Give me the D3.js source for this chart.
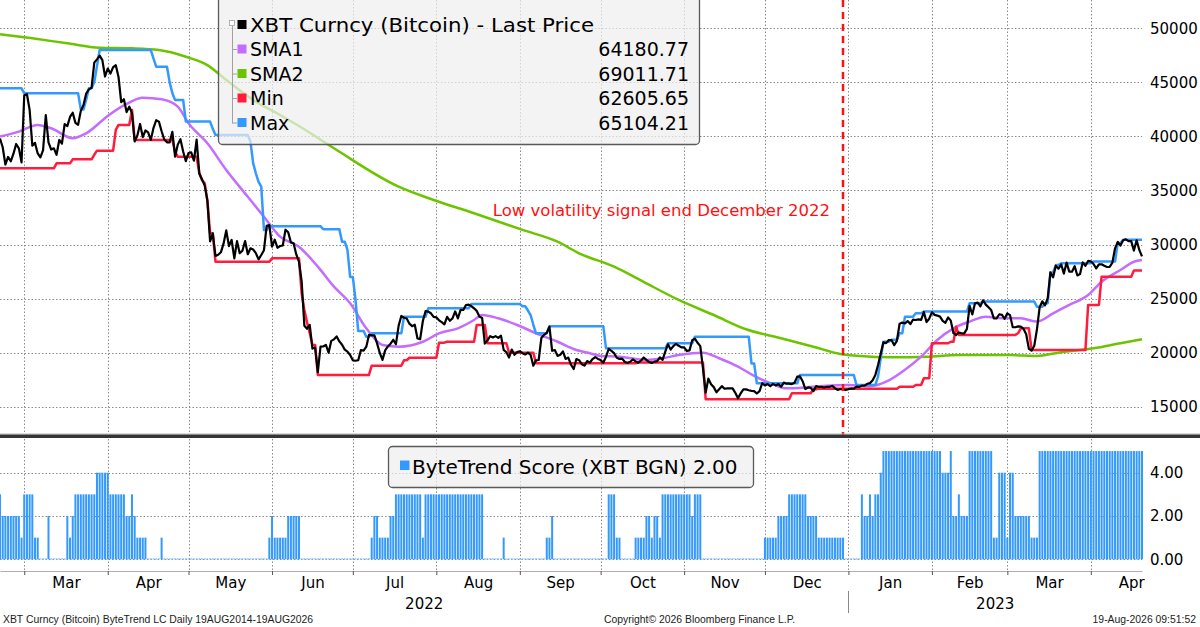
<!DOCTYPE html>
<html>
<head>
<meta charset="utf-8">
<script src="https://cdn.jsdelivr.net/npm/d3@7"></script>
<style>
body { margin: 0; background: #fff; }
svg { display: block; font-family: "DejaVu Sans", Verdana, sans-serif; }
</style>
</head>
<body>
<svg id="chart" width="1200" height="627"></svg>
<script>
// daily last price, first value is 20 Feb 2022
const startDay = "2022-02-20";
const endDay = "2023-04-20";
const priceValues = [
	39800, 39000, 37400, 38100, 37700, 38400, 39300, 38900, 37600, 43800,
	43900, 42450, 39150, 39400, 38420, 38060, 38740, 41980, 39440, 38790,
	38900, 38300, 39670, 39340, 41140, 40950, 41800, 42190, 41250, 41080,
	42360, 42900, 43960, 44350, 44500, 46820, 47130, 47470, 47060, 45540,
	46280, 45810, 46410, 46580, 45500, 43170, 43440, 42250, 42750, 42160,
	39530, 40080, 41150, 39940, 40550, 40380, 39680, 40800, 41500, 41370,
	40480, 39710, 39450, 39450, 40430, 38120, 39240, 39740, 38600, 37710,
	38470, 38530, 37750, 39700, 36570, 36010, 35470, 34060, 30300, 31020,
	28940, 29050, 29280, 30080, 31310, 29860, 30420, 28720, 30310, 29200,
	29430, 30320, 29100, 29650, 29540, 29200, 28630, 29030, 29470, 31720,
	31790, 29800, 30450, 29700, 29860, 29910, 31370, 31130, 30200, 30110,
	29080, 28420, 26580, 22490, 22210, 22570, 20380, 20470, 18200, 20550,
	20570, 20720, 19990, 21090, 21230, 21500, 21040, 20730, 20280, 20100,
	19780, 19300, 19250, 19300, 20230, 20190, 20550, 21640, 21590, 21590,
	20860, 19970, 19330, 20210, 20570, 20830, 21190, 20780, 22480, 23390,
	23230, 23160, 22680, 22450, 22580, 21310, 21250, 22930, 23840, 23800,
	23640, 23300, 23270, 22990, 22820, 22620, 23310, 22950, 23170, 23810,
	23160, 23950, 23950, 24400, 24440, 24310, 24100, 23860, 23340, 23210,
	20830, 21140, 21520, 21400, 21530, 21370, 21570, 20260, 20040, 19550,
	20280, 19800, 20050, 20130, 19950, 19830, 20000, 19800, 18790, 19290,
	19320, 21360, 21650, 21830, 22400, 20170, 20240, 19700, 19800, 20110,
	19420, 19540, 18880, 18490, 19410, 19300, 18930, 18800, 19220, 19080,
	19410, 19590, 19420, 19310, 19060, 19620, 20340, 20160, 19960, 19530,
	19420, 19450, 19130, 19060, 19160, 19380, 19180, 19070, 19270, 19550,
	19330, 19130, 19050, 19170, 19210, 19570, 19330, 20090, 20770, 20290,
	20600, 20820, 20630, 20490, 20480, 20150, 20210, 21150, 21300, 20910,
	20600, 18540, 16300, 17590, 17070, 16810, 16330, 16620, 16900, 16660,
	16690, 16700, 16700, 16280, 15780, 16230, 16610, 16600, 16520, 16460,
	16440, 16220, 16440, 17170, 16970, 17090, 16890, 17110, 16970, 17090,
	16840, 17230, 17130, 17130, 17090, 17210, 17780, 17810, 17360, 16630,
	16780, 16740, 16440, 16900, 16820, 16830, 16780, 16840, 16840, 16920,
	16710, 16550, 16640, 16600, 16540, 16620, 16680, 16670, 16850, 16830,
	16950, 16940, 17120, 17180, 17440, 17940, 18850, 19930, 20950, 20880,
	21170, 21160, 20690, 21080, 22680, 22780, 22710, 22920, 22640, 23060,
	23020, 23080, 23030, 23760, 22830, 23140, 23730, 23490, 23430, 23330,
	22940, 22760, 23260, 22960, 21800, 21630, 21860, 21790, 21780, 22200,
	24330, 23530, 24570, 24630, 24280, 24840, 24440, 24190, 23940, 23170,
	23160, 23550, 23490, 23130, 23640, 23470, 22360, 22350, 22430, 22410,
	22200, 21700, 20360, 20190, 20630, 22160, 24200, 24750, 24380, 25050,
	27420, 26970, 28040, 27770, 28170, 27310, 28330, 27490, 27490, 27990,
	27140, 27270, 28350, 28030, 28480, 28450, 28200, 27800, 28170, 28170,
	28030, 27920, 27940, 28330, 29650, 30240, 29900, 30390, 30480, 30320,
	30310, 29440, 30390, 29500, 28900
];

// Max / Min channel: value from that day on, held until the next entry
const maxSteps = [
	["2022-02-20", 44450], ["2022-03-01", 43990], ["2022-03-22", 42500], ["2022-03-24", 43400],
	["2022-03-25", 44450], ["2022-03-27", 45000], ["2022-03-28", 46500], ["2022-03-29", 47990],
	["2022-04-18", 47200], ["2022-04-19", 46450], ["2022-04-24", 45000], ["2022-04-25", 43990],
	["2022-04-26", 43370], ["2022-04-30", 41370], ["2022-05-10", 40700], ["2022-05-11", 40130],
	["2022-05-24", 39500], ["2022-05-25", 37500], ["2022-05-26", 36590], ["2022-05-27", 35800],
	["2022-05-28", 35350], ["2022-05-29", 31350], ["2022-05-31", 31700], ["2022-06-20", 31410],
	["2022-06-27", 30260], ["2022-06-29", 29500], ["2022-06-30", 27000], ["2022-07-02", 24870],
	["2022-07-03", 22000], ["2022-07-06", 21470], ["2022-07-08", 21800], ["2022-07-20", 23330],
	["2022-07-29", 24100], ["2022-08-14", 24500], ["2022-09-02", 24300], ["2022-09-04", 23900],
	["2022-09-05", 23480], ["2022-09-06", 22600], ["2022-09-07", 21790], ["2022-09-12", 22450],
	["2022-10-03", 20400], ["2022-10-26", 20870], ["2022-11-05", 21470], ["2022-11-26", 19000],
	["2022-11-28", 17170], ["2022-12-14", 17930], ["2023-01-04", 17010], ["2023-01-12", 17780],
	["2023-01-13", 19500], ["2023-01-14", 21010], ["2023-01-17", 21200], ["2023-01-20", 21790],
	["2023-01-22", 23330], ["2023-01-26", 23640], ["2023-01-29", 23800], ["2023-02-15", 24570],
	["2023-02-20", 24720], ["2023-03-12", 24250], ["2023-03-15", 24570], ["2023-03-17", 27420],
	["2023-03-19", 28100], ["2023-03-21", 28270], ["2023-04-02", 28420], ["2023-04-11", 30130],
	["2023-04-13", 30440], ["2023-04-20", 30440]
];
const minSteps = [
	["2022-02-20", 37050], ["2022-03-13", 37510], ["2022-03-19", 37880], ["2022-03-27", 38300],
	["2022-03-28", 38680], ["2022-04-04", 40600], ["2022-04-05", 41060], ["2022-04-10", 42440],
	["2022-04-11", 39670], ["2022-04-26", 38590], ["2022-04-27", 38120], ["2022-05-05", 36590],
	["2022-05-06", 35970], ["2022-05-07", 35660], ["2022-05-08", 34060], ["2022-05-09", 31040],
	["2022-05-11", 28410], ["2022-06-01", 28720], ["2022-06-12", 25490], ["2022-06-13", 23950],
	["2022-06-14", 22800], ["2022-06-15", 21790], ["2022-06-16", 20710], ["2022-06-18", 17940],
	["2022-07-08", 18790], ["2022-07-20", 19300], ["2022-07-22", 19530], ["2022-08-02", 20920],
	["2022-08-05", 21010], ["2022-08-16", 22560], ["2022-08-20", 20870], ["2022-08-28", 20000],
	["2022-09-07", 19020], ["2022-10-15", 19090], ["2022-11-09", 15700], ["2022-12-11", 16240],
	["2022-12-19", 16610], ["2022-12-21", 16650], ["2023-01-20", 16850], ["2023-01-26", 17010],
	["2023-01-29", 17630], ["2023-02-01", 20870], ["2023-02-08", 21010], ["2023-02-10", 22400],
	["2023-02-11", 21640], ["2023-03-05", 21790], ["2023-03-06", 22250], ["2023-03-10", 20250],
	["2023-03-31", 24410], ["2023-04-05", 27030], ["2023-04-17", 27600], ["2023-04-20", 27600]
];

const sma1Points = [
	["2022-02-20", 39980], ["2022-02-27", 40440], ["2022-03-06", 41060], ["2022-03-11", 40750],
	["2022-03-19", 39830], ["2022-03-24", 40290], ["2022-04-01", 41890], ["2022-04-08", 43000],
	["2022-04-14", 43580], ["2022-04-21", 43430], ["2022-04-27", 42750], ["2022-05-01", 41210],
	["2022-05-08", 39360], ["2022-05-15", 36890], ["2022-05-23", 34420], ["2022-05-29", 32570],
	["2022-06-04", 30730], ["2022-06-11", 29800], ["2022-06-18", 27950], ["2022-06-24", 26100],
	["2022-06-30", 24570], ["2022-07-06", 22250], ["2022-07-12", 20710], ["2022-07-18", 20550],
	["2022-07-27", 21010], ["2022-08-02", 21790], ["2022-08-09", 22250], ["2022-08-15", 23020],
	["2022-08-18", 23480], ["2022-08-24", 23180], ["2022-08-31", 22560], ["2022-09-07", 21790],
	["2022-09-15", 21010], ["2022-09-22", 20250], ["2022-09-27", 19940], ["2022-10-01", 19700],
	["2022-10-08", 19630], ["2022-10-18", 19330], ["2022-10-24", 19480], ["2022-10-30", 19780],
	["2022-11-08", 20000], ["2022-11-14", 19480], ["2022-11-21", 18710], ["2022-11-27", 17850],
	["2022-12-03", 17170], ["2022-12-09", 16700], ["2022-12-19", 16850], ["2023-01-01", 17010],
	["2023-01-09", 16900], ["2023-01-15", 17310], ["2023-01-21", 18240], ["2023-01-28", 19630],
	["2023-02-03", 21170], ["2023-02-09", 22250], ["2023-02-15", 22870], ["2023-02-21", 23330],
	["2023-02-27", 23180], ["2023-03-06", 23180], ["2023-03-12", 22870], ["2023-03-18", 23640],
	["2023-03-24", 24410], ["2023-03-31", 25330], ["2023-04-05", 26560], ["2023-04-12", 27640],
	["2023-04-17", 28410], ["2023-04-20", 28570]
];
const sma2Points = [
	["2022-02-20", 49440], ["2022-03-04", 49070], ["2022-03-17", 48610], ["2022-03-29", 48210],
	["2022-04-10", 48150], ["2022-04-20", 47990], ["2022-04-30", 47370], ["2022-05-08", 46600],
	["2022-05-15", 45220], ["2022-05-25", 43370], ["2022-06-04", 41980], ["2022-06-11", 40960],
	["2022-06-24", 38900], ["2022-07-18", 35350], ["2022-07-31", 34120], ["2022-08-15", 32890],
	["2022-09-02", 31350], ["2022-09-15", 30260], ["2022-09-23", 29190], ["2022-10-06", 27950],
	["2022-10-18", 26410], ["2022-10-30", 24870], ["2022-11-12", 23480], ["2022-11-24", 22160],
	["2022-12-07", 21330], ["2022-12-19", 20550], ["2022-12-29", 19880], ["2023-01-04", 19720],
	["2023-01-18", 19570], ["2023-01-30", 19620], ["2023-02-11", 19780], ["2023-03-02", 19780],
	["2023-03-12", 19700], ["2023-03-20", 20000], ["2023-04-02", 20400], ["2023-04-12", 20870],
	["2023-04-20", 21230]
];

// ByteTrend score as runs: [score, number of days], from startDay
const scoreRuns = [
	[3,1],[2,7],[1,1],[3,4],[1,2],[0,3],[2,1],[0,6],[2,1],[1,1],[2,1],[3,8],[4,5],[3,6],
	[2,2],[3,1],[2,1],[1,4],[0,5],[1,1],[0,39],[1,1],[2,1],[1,5],[2,5],[0,26],[1,1],[2,2],
	[1,4],[2,2],[3,10],[1,1],[3,22],[0,7],[1,1],[0,15],[1,2],[2,1],[0,20],[3,3],[1,2],[0,5],
	[1,4],[2,2],[1,1],[2,2],[1,1],[3,11],[2,1],[3,3],[0,23],[1,5],[2,4],[3,7],[2,4],[1,10],
	[0,6],[3,1],[2,2],[3,1],[2,1],[3,2],[4,1],[5,22],[4,3],[5,1],[2,2],[3,1],[2,3],[5,9],
	[1,2],[4,3],[1,1],[4,2],[2,6],[1,3],[5,39]
];

const priceTicks = [15000, 20000, 25000, 30000, 35000, 40000, 45000, 50000];
const scoreTicks = [0, 2, 4];
const monthLabels = ["Mar", "Apr", "May", "Jun", "Jul", "Aug", "Sep", "Oct", "Nov", "Dec", "Jan", "Feb", "Mar", "Apr"];
const yearLabels = ["2022", "2023"];
const yearStarts = ["2022-02-20", "2023-01-01"];
const signalDay = "2022-12-30";

const legendNames = ["XBT Curncy (Bitcoin) - Last Price", "SMA1", "SMA2", "Min", "Max"];
const legendValues = ["", "64180.77", "69011.71", "62605.65", "65104.21"];
const seriesColors = ["#000000", "#c46cff", "#6cc400", "#ff1c3c", "#3399ff"];

function whenDocumentLoaded(action) {
	if (document.readyState === "loading") {
		document.addEventListener("DOMContentLoaded", action);
	} else {
		action();
	}
}

whenDocumentLoaded(() => {
	drawChart();
});

function drawChart()
{
	const parse = d3.timeParse("%Y-%m-%d");
	const start = parse(startDay);
	const end = parse(endDay);
	const plotRight = 1142;

	const x = d3.scaleTime().domain([start, end]).range([0, plotRight]);
	const yTop = d3.scaleLinear().domain([15000, 50000]).range([406.7, 28.3]);
	const yBot = d3.scaleLinear().domain([0, 4]).range([559.3, 472.7]);

	const svg = d3.select("#chart");
	const monthStarts = d3.timeMonth.range(d3.timeDay.offset(start, 1), end);

	//Grid of the top panel
	const grid = svg.append("g")
	.attr("stroke", "#8a8a8a")
	.attr("stroke-width", 1)
	.attr("stroke-dasharray", "1.5,2");
	grid.selectAll(".vTop")
	.data(monthStarts)
	.enter()
	.append("line")
	.attr("x1", d => Math.round(x(d)) + 0.5)
	.attr("x2", d => Math.round(x(d)) + 0.5)
	.attr("y1", 0)
	.attr("y2", 434);
	grid.selectAll(".hTop")
	.data(priceTicks)
	.enter()
	.append("line")
	.attr("x1", 0)
	.attr("x2", plotRight)
	.attr("y1", d => Math.round(yTop(d)) + 0.5)
	.attr("y2", d => Math.round(yTop(d)) + 0.5);

	//Grid of the bottom panel
	grid.selectAll(".vBot")
	.data(monthStarts)
	.enter()
	.append("line")
	.attr("x1", d => Math.round(x(d)) + 0.5)
	.attr("x2", d => Math.round(x(d)) + 0.5)
	.attr("y1", 439)
	.attr("y2", 571);
	grid.selectAll(".hBot")
	.data(scoreTicks)
	.enter()
	.append("line")
	.attr("x1", 0)
	.attr("x2", plotRight)
	.attr("y1", d => Math.round(yBot(d)) + 0.5)
	.attr("y2", d => Math.round(yBot(d)) + 0.5);

	// expand held values so a change is drawn over one day like the original
	function holdPoints(steps)
	{
		let pts = [];
		steps.forEach((s, i) => {
			const day = parse(s[0]);
			if (i > 0) {
				const prevDay = d3.timeDay.offset(day, -1);
				if (prevDay > parse(steps[i - 1][0])) {
					pts.push([prevDay, steps[i - 1][1]]);
				}
			}
			pts.push([day, s[1]]);
		});
		return pts;
	}

	const lineGenerator = d3.line()
	.x(d => x(d[0]))
	.y(d => yTop(d[1]));
	const smoothLine = d3.line()
	.x(d => x(d[0]))
	.y(d => yTop(d[1]))
	.curve(d3.curveMonotoneX);

	const pricePts = priceValues.map((v, i) => [d3.timeDay.offset(start, i), v]);

	const lines = svg.append("g")
	.attr("fill", "none")
	.attr("stroke-linejoin", "round");
	lines.append("path")
	.attr("d", smoothLine(sma2Points.map(p => [parse(p[0]), p[1]])))
	.attr("stroke", seriesColors[2])
	.attr("stroke-width", 2.5);
	lines.append("path")
	.attr("d", smoothLine(sma1Points.map(p => [parse(p[0]), p[1]])))
	.attr("stroke", seriesColors[1])
	.attr("stroke-width", 2.5);
	lines.append("path")
	.attr("d", lineGenerator(holdPoints(minSteps)))
	.attr("stroke", seriesColors[3])
	.attr("stroke-width", 2.5);
	lines.append("path")
	.attr("d", lineGenerator(holdPoints(maxSteps)))
	.attr("stroke", seriesColors[4])
	.attr("stroke-width", 2.5);
	lines.append("path")
	.attr("d", lineGenerator(pricePts))
	.attr("stroke", seriesColors[0])
	.attr("stroke-width", 2.2);

	//Signal line and note
	const sx = Math.round(x(parse(signalDay)));
	svg.append("line")
	.attr("x1", sx)
	.attr("x2", sx)
	.attr("y1", 0)
	.attr("y2", 436)
	.attr("stroke", "#ff1010")
	.attr("stroke-width", 2.5)
	.attr("stroke-dasharray", "7,5");
	svg.append("text")
	.attr("x", sx - 13)
	.attr("y", 216)
	.attr("text-anchor", "end")
	.style("font-size", "16.5px")
	.style("fill", "#ff1010")
	.text("Low volatility signal end December 2022");

	//Panel separator
	svg.append("rect")
	.attr("x", 0).attr("y", 433.5)
	.attr("width", 1200).attr("height", 1)
	.style("fill", "#bdbdbd");
	svg.append("rect")
	.attr("x", 0).attr("y", 434.5)
	.attr("width", 1200).attr("height", 3.5)
	.style("fill", "#353535");

	//Score bars
	let scoreDays = [];
	let k = 0;
	scoreRuns.forEach(r => {
		for (let j = 0; j < r[1]; j++) {
			scoreDays.push({day: d3.timeDay.offset(start, k), score: r[0]});
			k++;
		}
	});
	svg.append("g")
	.selectAll("rect")
	.data(scoreDays)
	.enter()
	.append("rect")
	.attr("x", d => x(d.day) - 1)
	.attr("width", 2)
	.attr("y", d => d.score > 0 ? yBot(d.score) : yBot(0) - 1)
	.attr("height", d => d.score > 0 ? yBot(0) - yBot(d.score) : 1.2)
	.style("fill", d => d.score > 0 ? "#3399ff" : "#8cc4ff");

	//Right axes
	const rightTop = d3.axisRight(yTop)
	.tickValues(priceTicks)
	.tickSize(0)
	.tickPadding(4)
	.tickFormat(d3.format("d"));
	svg.append("g")
	.attr("class", "axis")
	.attr("transform", "translate(1146,0)")
	.call(rightTop);

	const rightBot = d3.axisRight(yBot)
	.tickValues(scoreTicks)
	.tickSize(0)
	.tickPadding(4)
	.tickFormat(d3.format(".2f"));
	svg.append("g")
	.attr("class", "axis")
	.attr("transform", "translate(1146,0)")
	.call(rightBot);

	//Time axis: month ticks, then labels in the middle of each month
	const monthAxis = d3.axisBottom(x)
	.tickValues(monthStarts)
	.tickSize(4)
	.tickSizeOuter(0)
	.tickFormat("");
	const axisG = svg.append("g")
	.attr("transform", "translate(0,571)")
	.call(monthAxis);
	axisG.select(".domain").attr("stroke", "#b0b0b0");
	axisG.selectAll(".tick line").attr("stroke", "#555");

	const monthMids = monthStarts.map(m => new Date((+m + +d3.timeMonth.offset(m, 1)) / 2));
	const labelAxis = d3.axisBottom(x)
	.tickValues(monthMids)
	.tickSize(0)
	.tickPadding(6)
	.tickFormat((d, i) => monthLabels[i]);
	svg.append("g")
	.attr("class", "axis")
	.attr("transform", "translate(0,571)")
	.call(labelAxis);

	svg.selectAll(".axis .domain").remove();
	svg.selectAll(".axis text")
	.style("font-size", "15px")
	.style("fill", "#000")
	.style("font-family", "'DejaVu Sans', Verdana, sans-serif");

	//Years
	const yearEdges = yearStarts.map(parse).concat([end]);
	svg.selectAll(".year")
	.data(yearLabels)
	.enter()
	.append("text")
	.attr("x", (d, i) => (x(yearEdges[i]) + x(yearEdges[i + 1])) / 2)
	.attr("y", 609)
	.attr("text-anchor", "middle")
	.style("font-size", "15px")
	.text(d => d);
	const yx = Math.round(x(yearEdges[1])) + 0.5;
	svg.append("line")
	.attr("x1", yx).attr("x2", yx)
	.attr("y1", 591).attr("y2", 613)
	.attr("stroke", "#8a8a8a")
	.attr("stroke-width", 1);

	//Legend of the top panel (see-through like the original)
	const leg = svg.append("g");
	leg.append("rect")
	.attr("x", 218.5)
	.attr("y", -6)
	.attr("rx", 4)
	.attr("ry", 4)
	.attr("width", 481)
	.attr("height", 150.5)
	.style("fill", "#eeeeee")
	.style("fill-opacity", 0.72)
	.style("stroke", "#5a5a5a")
	.style("stroke-width", 1.3);

	const rowBase = [31.5, 56, 80.5, 105, 129.5];
	leg.append("line")
	.attr("x1", 232.5).attr("x2", 232.5)
	.attr("y1", 26).attr("y2", rowBase[4] - 6)
	.attr("stroke", "#a0a0a0");
	leg.selectAll(".conn")
	.data(rowBase.slice(1))
	.enter()
	.append("line")
	.attr("x1", 232.5).attr("x2", 237)
	.attr("y1", d => d - 6.5).attr("y2", d => d - 6.5)
	.attr("stroke", "#a0a0a0");
	leg.append("rect")
	.attr("x", 229.5).attr("y", 20.5)
	.attr("width", 5).attr("height", 5)
	.style("fill", "#fff")
	.style("stroke", "#a0a0a0")
	.style("stroke-width", 0.8);

	leg.selectAll(".swatch")
	.data(legendNames)
	.enter()
	.append("rect")
	.attr("x", 237.5)
	.attr("y", (d, i) => rowBase[i] - 11.5)
	.attr("width", 9)
	.attr("height", 9)
	.style("fill", (d, i) => seriesColors[i]);
	leg.selectAll(".name")
	.data(legendNames)
	.enter()
	.append("text")
	.attr("x", 250)
	.attr("y", (d, i) => rowBase[i])
	.attr("textLength", (d, i) => i === 0 ? 344 : null)
	.attr("lengthAdjust", "spacingAndGlyphs")
	.style("font-size", "19px")
	.text(d => d);
	leg.selectAll(".val")
	.data(legendValues)
	.enter()
	.append("text")
	.attr("x", 689)
	.attr("y", (d, i) => rowBase[i])
	.attr("text-anchor", "end")
	.style("font-size", "19px")
	.text(d => d);

	//Legend of the bottom panel
	const leg2 = svg.append("g");
	leg2.append("rect")
	.attr("x", 388.5)
	.attr("y", 446.5)
	.attr("rx", 4)
	.attr("ry", 4)
	.attr("width", 365)
	.attr("height", 41)
	.style("fill", "#eeeeee")
	.style("fill-opacity", 0.72)
	.style("stroke", "#5a5a5a")
	.style("stroke-width", 1.3);
	leg2.append("rect")
	.attr("x", 400).attr("y", 460.5)
	.attr("width", 9.5).attr("height", 9.5)
	.style("fill", "#3399ff");
	leg2.append("text")
	.attr("x", 412)
	.attr("y", 474)
	.style("font-size", "20px")
	.text("ByteTrend Score (XBT BGN) 2.00");

	//Footer, narrower face so it fits like the original
	const foot = svg.append("g")
	.style("font-family", "'Liberation Sans', Arial, sans-serif")
	.style("font-size", "10.4px")
	.style("fill", "#222");
	foot.append("text")
	.attr("x", 3).attr("y", 623)
	.text("XBT Curncy (Bitcoin) ByteTrend LC Daily 19AUG2014-19AUG2026");
	foot.append("text")
	.attr("x", 604).attr("y", 623)
	.text("Copyright\u00a9 2026 Bloomberg Finance L.P.");
	foot.append("text")
	.attr("x", 1196).attr("y", 623)
	.attr("text-anchor", "end")
	.text("19-Aug-2026 09:51:52");
}
</script>
</body>
</html>
